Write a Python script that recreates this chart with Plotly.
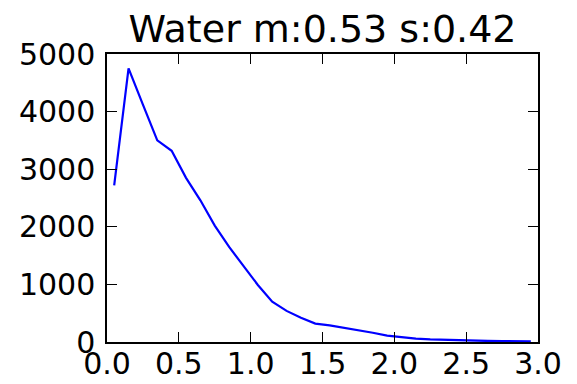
import plotly.graph_objects as go

# Histogram bin centres and counts for the water distribution
bin_centers = [0.05, 0.15, 0.25, 0.35, 0.45, 0.55, 0.65, 0.75, 0.85, 0.95,
               1.05, 1.15, 1.25, 1.35, 1.45, 1.55, 1.65, 1.75, 1.85, 1.95,
               2.05, 2.15, 2.25, 2.35, 2.45, 2.55, 2.65, 2.75, 2.85, 2.95]
counts = [2720, 4750, 4120, 3500, 3320, 2850, 2460, 2020, 1650, 1310,
          990, 700, 540, 420, 320, 290, 250, 200, 160, 110,
          80, 60, 45, 35, 28, 22, 18, 15, 12, 10]

x_ticks = [0.0, 0.5, 1.0, 1.5, 2.0, 2.5, 3.0]
y_ticks = [0, 1000, 2000, 3000, 4000, 5000]
title_text = "Water m:0.53 s:0.42"

fig = go.Figure(go.Scatter(
    x=bin_centers, y=counts, mode="lines",
    line=dict(color="#0000ff", width=2.2),
    hoverinfo="skip",
))

axis_common = dict(
    showgrid=False, zeroline=False, automargin=False,
    showline=True, linecolor="black", linewidth=1.5, mirror="allticks",
    ticks="inside", ticklen=10, tickwidth=1.2, tickcolor="black",
    tickfont=dict(family="DejaVu Sans", size=30, color="black"),
)

fig.update_layout(
    width=577, height=384,
    margin=dict(l=107, r=39, t=54, b=42, autoexpand=False),
    paper_bgcolor="white", plot_bgcolor="white",
    showlegend=False,
    title=dict(text=title_text, x=0.5, xref="paper", xanchor="center",
               y=1, yref="paper", yanchor="bottom", pad=dict(b=12),
               font=dict(family="DejaVu Sans", size=38, color="black")),
    xaxis=dict(range=[0, 3], tickvals=x_ticks, ticklabelstandoff=-6,
               ticktext=[f"{v:.1f}" for v in x_ticks], **axis_common),
    yaxis=dict(range=[0, 5000], tickvals=y_ticks, ticklabelstandoff=4,
               ticktext=[str(v) for v in y_ticks], **axis_common),
)

fig.write_html("out.html")
